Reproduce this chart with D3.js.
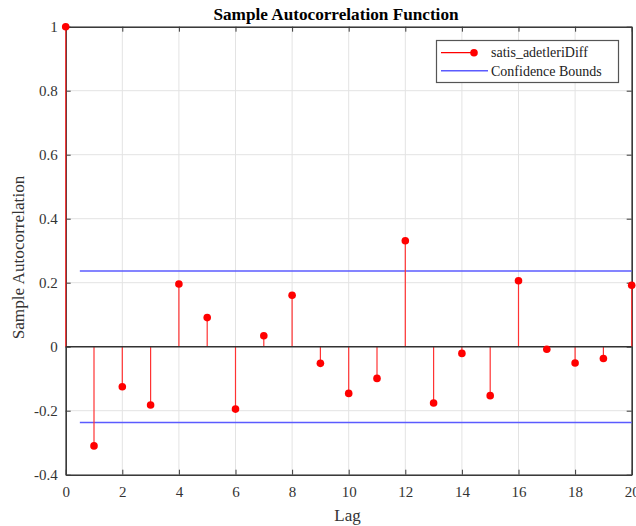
<!DOCTYPE html>
<html>
<head>
<meta charset="utf-8">
<script src="https://cdn.jsdelivr.net/npm/d3@7"></script>
<style>
  html, body { margin: 0; padding: 0; background: #fff; }
  svg { display: block; }
  text { font-family: "Liberation Serif", "Times New Roman", serif; }
</style>
</head>
<body>
<svg id="chart" width="636" height="526"></svg>
<script>
// Autocorrelation values by lag
const lags = [0, 1, 2, 3, 4, 5, 6, 7, 8, 9, 10, 11, 12, 13, 14, 15, 16, 17, 18, 19, 20];
const acf = [1, -0.310, -0.125, -0.182, 0.196, 0.091, -0.195, 0.034, 0.161, -0.052,
             -0.146, -0.099, 0.331, -0.176, -0.021, -0.153, 0.206, -0.008, -0.051, -0.037, 0.192];
const confBound = 0.2365;
const xTicks = [0, 2, 4, 6, 8, 10, 12, 14, 16, 18, 20];
const yTicks = [-0.4, -0.2, 0, 0.2, 0.4, 0.6, 0.8, 1];
const seriesName = "satis_adetleriDiff";
const boundsName = "Confidence Bounds";

const svg = d3.select("#chart");
const plot = { left: 65.7, right: 631.7, top: 26.7, bottom: 474.7 };

const x = d3.scaleLinear().domain([0, 20]).range([plot.left, plot.right]);
const y = d3.scaleLinear().domain([-0.4, 1]).range([plot.bottom, plot.top]);

const axisColor = "#3a3a3a";
const gridColor = "#e3e3e3";

// grid
svg.append("g").selectAll("line").data(xTicks).join("line")
  .attr("x1", d => x(d)).attr("x2", d => x(d))
  .attr("y1", plot.top).attr("y2", plot.bottom)
  .attr("stroke", gridColor).attr("stroke-width", 1);
svg.append("g").selectAll("line").data(yTicks).join("line")
  .attr("x1", plot.left).attr("x2", plot.right)
  .attr("y1", d => y(d)).attr("y2", d => y(d))
  .attr("stroke", gridColor).attr("stroke-width", 1);

// axes with inward ticks
const tickLen = 5;
const fmt = d => d === 0 ? "0" : String(+d.toFixed(1));
const xAxisB = d3.axisBottom(x).tickValues(xTicks).tickSizeInner(-tickLen).tickSizeOuter(0).tickPadding(12).tickFormat(d => d);
const xAxisT = d3.axisTop(x).tickValues(xTicks).tickSizeInner(-tickLen).tickSizeOuter(0).tickFormat("");
const yAxisL = d3.axisLeft(y).tickValues(yTicks).tickSizeInner(-tickLen).tickSizeOuter(0).tickPadding(8).tickFormat(fmt);
const yAxisR = d3.axisRight(y).tickValues(yTicks).tickSizeInner(-tickLen).tickSizeOuter(0).tickFormat("");

function styleAxis(g) {
  g.selectAll("path").attr("stroke", axisColor).attr("stroke-width", 1.6);
  g.selectAll("line").attr("stroke", axisColor).attr("stroke-width", 1);
  g.selectAll("text").attr("fill", "#333").style("font-family", "'Liberation Serif', serif").style("font-size", "15px");
}
svg.append("g").attr("transform", `translate(0,${plot.bottom})`).call(xAxisB).call(styleAxis);
svg.append("g").attr("transform", `translate(0,${plot.top})`).call(xAxisT).call(styleAxis);
svg.append("g").attr("transform", `translate(${plot.left},0)`).call(yAxisL).call(styleAxis);
svg.append("g").attr("transform", `translate(${plot.right},0)`).call(yAxisR).call(styleAxis);

// confidence bounds
[confBound, -confBound].forEach(b => {
  svg.append("line")
    .attr("x1", x(0.5)).attr("x2", x(20))
    .attr("y1", y(b)).attr("y2", y(b))
    .attr("stroke", "#5b5bff").attr("stroke-width", 1.5);
});

// stems
svg.append("g").selectAll("line").data(lags).join("line")
  .attr("x1", d => x(d)).attr("x2", d => x(d))
  .attr("y1", y(0)).attr("y2", (d, i) => y(acf[i]))
  .attr("stroke", "#ff3333").attr("stroke-width", 1.2);

// zero baseline
svg.append("line")
  .attr("x1", plot.left).attr("x2", plot.right)
  .attr("y1", y(0)).attr("y2", y(0))
  .attr("stroke", "#333").attr("stroke-width", 1.6);

// markers
svg.append("g").selectAll("circle").data(lags).join("circle")
  .attr("cx", d => x(d)).attr("cy", (d, i) => y(acf[i]))
  .attr("r", 3.8).attr("fill", "#ff0000");

// title and labels
svg.append("text").attr("x", 336).attr("y", 20)
  .attr("text-anchor", "middle").attr("font-weight", "bold").attr("font-size", 17.2)
  .attr("fill", "#000").text("Sample Autocorrelation Function");
svg.append("text").attr("x", 347.5).attr("y", 521)
  .attr("text-anchor", "middle").attr("font-size", 17).attr("fill", "#333").text("Lag");
svg.append("text")
  .attr("transform", `translate(24,257.5) rotate(-90)`)
  .attr("text-anchor", "middle").attr("font-size", 17.2).attr("fill", "#333").text("Sample Autocorrelation");

// legend
const lg = svg.append("g");
lg.append("rect").attr("x", 436.5).attr("y", 40.5).attr("width", 182).attr("height", 42)
  .attr("fill", "#fff").attr("stroke", "#555").attr("stroke-width", 1.2);
lg.append("line").attr("x1", 441).attr("x2", 474).attr("y1", 52.7).attr("y2", 52.7)
  .attr("stroke", "#ff0000").attr("stroke-width", 1.2);
lg.append("circle").attr("cx", 474).attr("cy", 52.7).attr("r", 3.8).attr("fill", "#ff0000");
lg.append("line").attr("x1", 441).attr("x2", 488).attr("y1", 70.7).attr("y2", 70.7)
  .attr("stroke", "#5b5bff").attr("stroke-width", 1.5);
lg.append("text").attr("x", 491).attr("y", 57.3).attr("font-size", 14).attr("fill", "#222").text(seriesName);
lg.append("text").attr("x", 491).attr("y", 76).attr("font-size", 14).attr("fill", "#222").text(boundsName);
</script>
</body>
</html>
